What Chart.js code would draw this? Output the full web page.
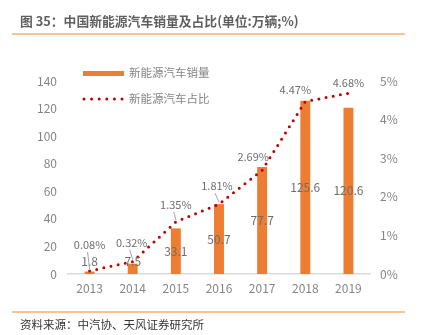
<!DOCTYPE html>
<html>
<head>
<meta charset="utf-8">
<script src="https://cdn.jsdelivr.net/npm/chart.js@4"></script>
<style>
  body { margin: 0; background: #fff; }
  #wrap { position: relative; width: 424px; height: 335px; font-family: "Noto Sans CJK SC", sans-serif; }
  #chart { position: absolute; left: 0; top: 0; }
  .title { position: absolute; left: 20px; top: 11px; font-size: 12.8px; font-weight: bold; color: #5f5f5f; white-space: nowrap; }
  .rule { position: absolute; left: 12px; width: 393px; height: 2px; background: #f9c291; }
  .source { position: absolute; left: 20px; top: 316px; font-size: 11.5px; color: #333; white-space: nowrap; }
</style>
</head>
<body>
<div id="wrap">
  <canvas id="chart" width="424" height="335"></canvas>
  <div class="title">图 35：中国新能源汽车销量及占比(单位:万辆;%)</div>
  <div class="rule" style="top:33px"></div>
  <div class="rule" style="top:311px"></div>
  <div class="source">资料来源：中汽协、天风证券研究所</div>
</div>
<script>
// years, sales (10k units) and share of total car sales (%)
const years = ['2013', '2014', '2015', '2016', '2017', '2018', '2019'];
const sales = [1.8, 7.5, 33.1, 50.7, 77.7, 125.6, 120.6];
const share = [0.08, 0.32, 1.35, 1.81, 2.69, 4.47, 4.68];
const salesTicks = [0, 20, 40, 60, 80, 100, 120, 140];
const shareTicks = [0, 1, 2, 3, 4, 5];

const FONT = '"Noto Sans CJK SC", sans-serif';
const TICK_GRAY = '#858585';
const LABEL_GRAY = '#6e6e6e';

// where each share label sits relative to its point, and whether it gets a leader line
const shareLabelShift = [[0, -26, true], [-1, -19, true], [0, -17, true], [-2, -18, true], [-9, -13, false], [-10, -12, false], [0, -11, false]];

const labelPlugin = {
  id: 'labels',
  afterDatasetsDraw(chart) {
    const ctx = chart.ctx;
    const base = chart.scales.y.getPixelForValue(0);
    ctx.save();
    ctx.textAlign = 'center';
    ctx.textBaseline = 'middle';

    // sales values, centred in the bar
    ctx.font = '12px ' + FONT;
    ctx.fillStyle = LABEL_GRAY;
    chart.getDatasetMeta(0).data.forEach((bar, i) => {
      let y = (bar.y + base) / 2;
      y = Math.min(y, base - 13);
      ctx.fillText(String(sales[i]), bar.x, y);
    });

    // share labels
    ctx.font = '11px ' + FONT;
    chart.getDatasetMeta(1).data.forEach((pt, i) => {
      const [dx, dy, leader] = shareLabelShift[i];
      const lx = pt.x + dx, ly = pt.y + dy;
      ctx.fillStyle = LABEL_GRAY;
      ctx.fillText(share[i].toFixed(2) + '%', lx, ly);
      if (leader) {
        ctx.strokeStyle = '#a6a6a6';
        ctx.lineWidth = 1;
        ctx.beginPath();
        ctx.moveTo(lx - 2, ly + 7);
        ctx.lineTo(pt.x, pt.y - 2);
        ctx.stroke();
      }
    });
    ctx.restore();
  },
  afterDraw(chart) {
    // legend inside the plot, top left
    const ctx = chart.ctx;
    ctx.save();
    ctx.font = '11.5px ' + FONT;
    ctx.textBaseline = 'middle';
    ctx.fillStyle = '#ED7D31';
    ctx.fillRect(83, 71, 41, 5);
    ctx.strokeStyle = '#C00000';
    ctx.lineWidth = 3;
    ctx.lineCap = 'round';
    ctx.setLineDash([0, 7.6]);
    ctx.beginPath();
    ctx.moveTo(84, 99);
    ctx.lineTo(124, 99);
    ctx.stroke();
    ctx.fillStyle = TICK_GRAY;
    ctx.fillText(chart.data.datasets[0].label, 129, 73);
    ctx.fillText(chart.data.datasets[1].label, 129, 99);
    ctx.restore();
  }
};

new Chart(document.getElementById('chart'), {
  data: {
    labels: years,
    datasets: [
      {
        type: 'bar',
        label: '新能源汽车销量',
        data: sales,
        backgroundColor: '#ED7D31',
        yAxisID: 'y',
        barPercentage: 0.23,
        categoryPercentage: 1,
        order: 2
      },
      {
        type: 'line',
        label: '新能源汽车占比',
        data: share,
        yAxisID: 'y1',
        borderColor: '#C00000',
        borderWidth: 3,
        borderDash: [0, 7.3],
        borderCapStyle: 'round',
        pointRadius: 0,
        tension: 0,
        order: 1
      }
    ]
  },
  options: {
    responsive: false,
    animation: false,
    layout: { padding: { left: 10, right: 0, top: 81, bottom: 31 } },
    plugins: { legend: { display: false }, tooltip: { enabled: false } },
    scales: {
      x: {
        grid: { display: false, drawTicks: false },
        border: { color: '#d9d9d9', width: 1.5 },
        ticks: { color: TICK_GRAY, font: { family: FONT, size: 12 }, padding: 7 },
        afterFit(s) { s.height = 30; }
      },
      y: {
        position: 'left',
        min: 0,
        max: 140,
        grid: { display: false, drawTicks: false },
        border: { display: false },
        afterBuildTicks(s) { s.ticks = salesTicks.map(v => ({ value: v })); },
        ticks: { color: TICK_GRAY, font: { family: FONT, size: 12 }, padding: 11 },
        afterFit(s) { s.width = 58; }
      },
      y1: {
        position: 'right',
        min: 0,
        max: 5,
        grid: { display: false, drawTicks: false },
        border: { display: false },
        afterBuildTicks(s) { s.ticks = shareTicks.map(v => ({ value: v })); },
        ticks: { color: TICK_GRAY, font: { family: FONT, size: 12 }, padding: 10, callback: v => v + '%' },
        afterFit(s) { s.width = 54; }
      }
    }
  },
  plugins: [labelPlugin]
});
</script>
</body>
</html>
